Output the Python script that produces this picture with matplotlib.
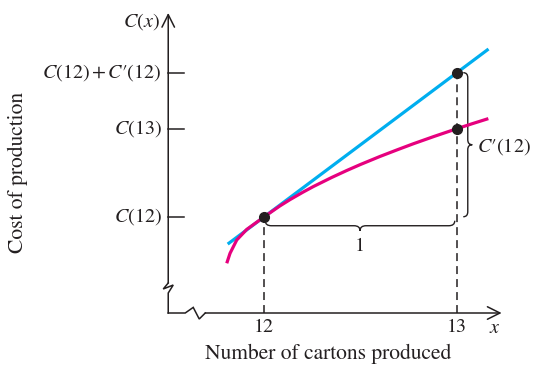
import matplotlib
matplotlib.use("Agg")
import matplotlib.pyplot as plt
from matplotlib.path import Path
from matplotlib.patches import PathPatch

plt.rcParams["font.family"] = ["STIXGeneral", "DejaVu Serif"]
plt.rcParams["mathtext.fontset"] = "stix"

# values
curve_x = [11.805, 11.822, 11.857, 11.909, 12.0, 12.082, 12.134, 12.2, 12.255,
           12.35, 12.428, 12.5, 12.601, 12.69, 12.774, 12.88, 13.0, 13.08, 13.164]
curve_y = [5.65, 6.78, 8.30, 9.50, 10.94, 12.18, 12.89, 13.72, 14.37,
           15.40, 16.19, 16.88, 17.79, 18.54, 19.23, 20.05, 20.94, 21.51, 22.09]
tangent_x = [11.81, 13.165]
tangent_y = [7.83, 30.0]
point_x = [12, 13, 13]
point_y = [10.94, 20.94, 27.31]
ytick_vals = [10.94, 20.94, 27.31]
ytick_labels = [r"$C$(12)", r"$C$(13)", r"$C$(12)$\,$+$\,$$C$′(12)"]
xtick_vals = [12, 13]
xtick_labels = ["12", "13"]

INK = "#231f20"
MAGENTA = "#e6007e"
CYAN = "#00aeef"
FS = 14.5
FS_TITLE = 15.5

fig = plt.figure(figsize=(5.38, 3.68), dpi=100)
ax = fig.add_axes([0, 0, 1, 1])
ax.set_xlim(10.627, 13.422)
ax.set_ylim(-6.25, 35.57)
ax.axis("off")

PX = 1 / 192.5   # x units per pixel
PY = 1 / 8.8     # y units per pixel
x0 = 11.501      # where the y axis sits
y0 = 0.0         # where the x axis sits

arrow = dict(arrowstyle="->,head_length=0.9,head_width=0.45",
             lw=1.1, color=INK, shrinkA=0, shrinkB=0)

# axes with breaks
ax.plot([x0, x0, x0 + 5 * PX, x0 - 5 * PX, x0, x0],
        [y0, y0 + 20 * PY, y0 + 28 * PY, y0 + 24 * PY, y0 + 30 * PY, y0 + 30 * PY],
        color=INK, lw=1.1, solid_joinstyle="miter")
ax.annotate("", xy=(x0, 34.1), xytext=(x0, y0 + 30 * PY), arrowprops=arrow)
ax.plot([x0, x0 + 17 * PX, x0 + 25 * PX, x0 + 31 * PX, x0 + 37 * PX],
        [y0, y0, y0 + 5.6 * PY, y0 - 6 * PY, y0],
        color=INK, lw=1.1, solid_joinstyle="miter")
ax.annotate("", xy=(13.233, y0), xytext=(x0 + 37 * PX, y0), arrowprops=arrow)

# y ticks and labels
for v, lab in zip(ytick_vals, ytick_labels):
    ax.plot([x0, x0 + 16 * PX], [v, v], color=INK, lw=1.1)
    ax.text(x0 - 6.5 * PX, v, lab, ha="right", va="center", fontsize=FS, color=INK)
ax.text(x0 - 8 * PX, 33.1, r"$C$($x$)", ha="right", va="center", fontsize=FS, color=INK)

# x tick labels
for v, lab in zip(xtick_vals, xtick_labels):
    ax.text(v, -1.59, lab, ha="center", va="center", fontsize=FS, color=INK)
ax.text(13.199, -1.7, r"$x$", ha="center", va="center", fontsize=FS, color=INK)

# axis titles
ax.text(12.332, -4.6, "Number of cartons produced", ha="center", va="center",
        fontsize=FS_TITLE, color=INK)
ax.text(10.72, 16.0, "Cost of production", ha="center", va="center",
        rotation=90, fontsize=FS_TITLE, color=INK)

# dashed guides
for px, py in [(point_x[0], point_y[0]), (point_x[2], point_y[2])]:
    ax.plot([px, px], [y0, py], color=INK, lw=1.1, dashes=(5.2, 3.3))

# curves
ax.plot(tangent_x, tangent_y, color=CYAN, lw=2.3, solid_capstyle="butt")
ax.plot(curve_x, curve_y, color=MAGENTA, lw=2.3, solid_capstyle="butt",
        solid_joinstyle="round")
ax.plot(point_x, point_y, "o", color=INK, ms=7, zorder=5)


def hbrace(xa, xb, ytop, h, r):
    ym = ytop - h / 2
    xm = (xa + xb) / 2
    verts = [(xa, ytop), (xa, ym), (xa + r, ym), (xm - r, ym),
             (xm, ym), (xm, ytop - h), (xm, ym), (xm + r, ym),
             (xb - r, ym), (xb, ym), (xb, ytop)]
    codes = [Path.MOVETO, Path.CURVE3, Path.CURVE3, Path.LINETO,
             Path.CURVE3, Path.CURVE3, Path.CURVE3, Path.CURVE3,
             Path.LINETO, Path.CURVE3, Path.CURVE3]
    ax.add_patch(PathPatch(Path(verts, codes), fc="none", ec=INK, lw=1.0))


def vbrace(ya, yb, xleft, w, r):
    xm = xleft + w / 2
    ym = (ya + yb) / 2
    verts = [(xleft, ya), (xm, ya), (xm, ya - r), (xm, ym + r),
             (xm, ym), (xleft + w, ym), (xm, ym), (xm, ym - r),
             (xm, yb + r), (xm, yb), (xleft, yb)]
    codes = [Path.MOVETO, Path.CURVE3, Path.CURVE3, Path.LINETO,
             Path.CURVE3, Path.CURVE3, Path.CURVE3, Path.CURVE3,
             Path.LINETO, Path.CURVE3, Path.CURVE3]
    ax.add_patch(PathPatch(Path(verts, codes), fc="none", ec=INK, lw=1.0))


hbrace(point_x[0] + 1 * PX, point_x[1] - 2 * PX, point_y[0] - 4 * PY, 10 * PY, 6 * PX)
ax.text(12.497, 7.6, "1", ha="center", va="center", fontsize=FS, color=INK)

vbrace(point_y[2], point_y[0], point_x[2] + 6.5 * PX, 9 * PX, 5 * PY)
ax.text(13.105, 18.9, r"$C$′(12)", ha="left", va="center", fontsize=FS, color=INK)

fig.savefig("out.png", dpi=100)
